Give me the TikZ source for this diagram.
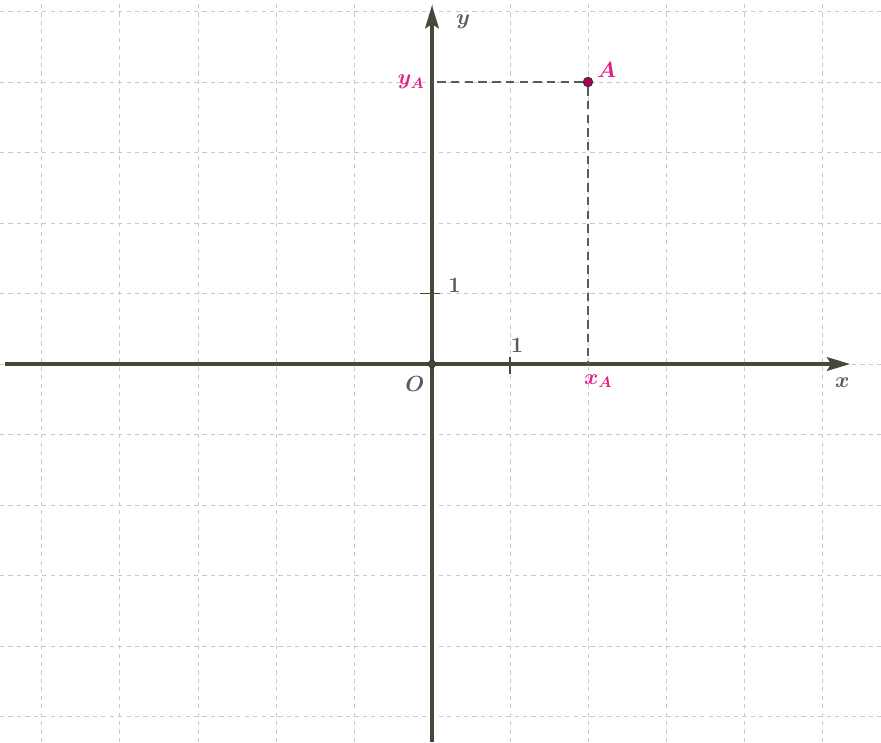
\documentclass[tikz,border=0pt]{standalone}
\usepackage{xcolor}
\definecolor{axgray}{RGB}{70,73,58}
\definecolor{gridgray}{RGB}{200,200,200}
\definecolor{lblgray}{RGB}{90,90,90}
\definecolor{ptmagenta}{RGB}{228,30,130}
\definecolor{ptdark}{RGB}{170,0,80}
\usetikzlibrary{arrows.meta}

\begin{document}
\begin{tikzpicture}[x=2.6cm, y=2.35cm,
  gridline/.style={gridgray, line width=0.9pt, dash pattern=on 4pt off 4pt},
  axisline/.style={axgray, line width=3.2pt, -{Stealth[length=22pt,width=13pt,inset=4pt]}},
  tickline/.style={axgray, line width=1.4pt},
  projline/.style={lblgray, line width=1.1pt, dash pattern=on 8pt off 5pt},
  axlabel/.style={lblgray, font=\fontsize{21}{25}\selectfont\boldmath, inner sep=1pt},
  ptlabel/.style={ptmagenta, font=\fontsize{21}{25}\selectfont\boldmath, inner sep=1pt},
  dot/.style={circle, draw=black!80, line width=0.8pt, inner sep=0pt, minimum size=#1}]
  \useasboundingbox (-5.538,-5.362) rectangle (5.756,5.163);

  %% Grid
  \foreach \i in {-5,...,5}
    \draw[gridline] (\i,-5.362) -- (\i,5.163);
  \foreach \j in {-5,...,5}
    \draw[gridline] (-5.538,\j) -- (5.756,\j);

  %% Axes
  \coordinate (xstart) at (-5.48,0);
  \coordinate (xend)   at (5.36,0);
  \coordinate (ystart) at (0,-5.362);
  \coordinate (yend)   at (0,5.09);
  \draw[axisline] (xstart) -- (xend);
  \draw[axisline] (ystart) -- (yend);
  \node[axlabel] (xlbl) at (5.26,-0.26) {$x$};
  \node[axlabel] (ylbl) at (0.4,4.85) {$y$};

  %% Unit ticks
  \draw[tickline] (1,-0.14) -- (1,0.1);
  \draw[tickline] (-0.15,1) -- (0.1,1);
  \node[axlabel] (onex) at (1.09,0.27) {$1$};
  \node[axlabel] (oney) at (0.29,1.12) {$1$};

  %% Origin
  \node[dot=7pt, fill=axgray] (O) at (0,0) {};
  \node[axlabel] (olbl) at (-0.22,-0.28) {$O$};

  %% Point A and its projections
  \coordinate (xA) at (2,0);
  \coordinate (yA) at (0,4);
  \node[dot=9pt, fill=ptdark] (A) at (2,4) {};
  \draw[projline] (A) -- (yA);
  \draw[projline] (A) -- (xA);
  \node[ptlabel] (albl)  at (2.24,4.17) {$A$};
  \node[ptlabel] (yalbl) at (-0.27,4) {$y_A$};
  \node[ptlabel] (xalbl) at (2.13,-0.24) {$x_A$};
\end{tikzpicture}
\end{document}
